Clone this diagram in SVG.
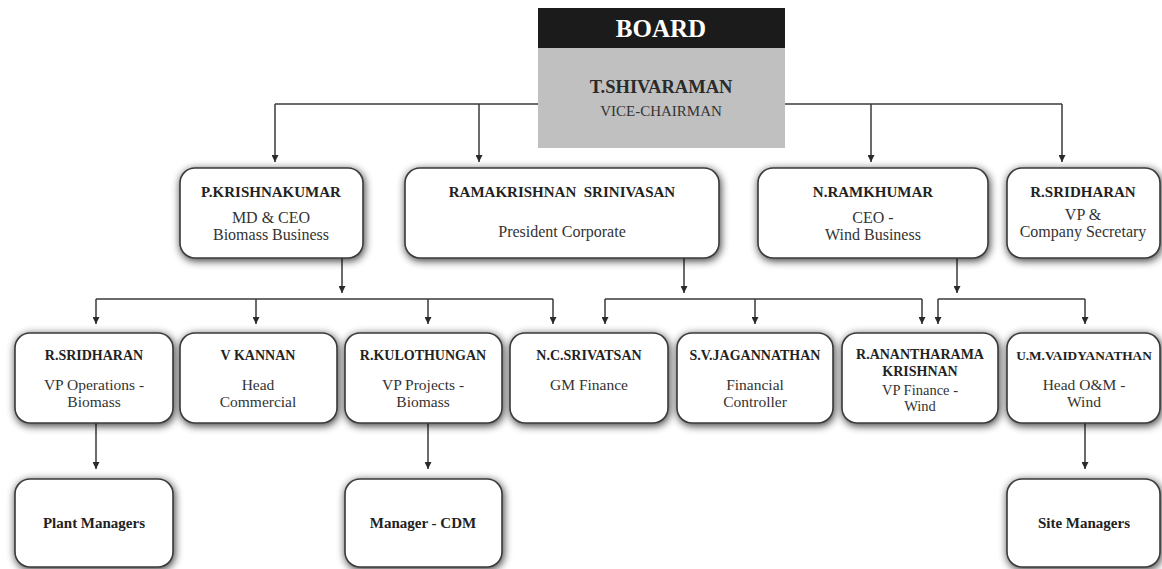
<svg xmlns="http://www.w3.org/2000/svg" width="1162" height="569" viewBox="0 0 1162 569">
<defs>
<filter id="sh" x="-20%" y="-20%" width="140%" height="150%">
<feGaussianBlur in="SourceAlpha" stdDeviation="4.5"/>
<feOffset dx="1" dy="2" result="b"/>
<feComponentTransfer><feFuncA type="linear" slope="0.8"/></feComponentTransfer>
<feMerge><feMergeNode/><feMergeNode in="SourceGraphic"/></feMerge>
</filter>
<marker id="ah" markerWidth="7" markerHeight="7" refX="7" refY="3.5" orient="auto" markerUnits="userSpaceOnUse" viewBox="0 0 7 7">
<path d="M0,0 L7,3.5 L0,7 Z" fill="#2a2a2a"/>
</marker>
<style>
.bx{fill:#fff;stroke:#3a3a3a;stroke-width:1.6;filter:url(#sh)}
.ln{fill:none;stroke:#3a3a3a;stroke-width:1.5}
.ar{fill:none;stroke:#3a3a3a;stroke-width:1.5;marker-end:url(#ah)}
.nm{font-weight:bold;fill:#222;text-anchor:middle}
.tt{fill:#333;text-anchor:middle}
</style>
</defs>
<rect width="1162" height="569" fill="#fff"/>

<g id="connectors">
<line class="ln" x1="538" y1="104" x2="275" y2="104"/>
<line class="ar" x1="275" y1="104" x2="275" y2="162"/>
<line class="ar" x1="479" y1="104" x2="479" y2="162"/>
<line class="ln" x1="785" y1="104" x2="1062" y2="104"/>
<line class="ar" x1="871" y1="104" x2="871" y2="162"/>
<line class="ar" x1="1062" y1="104" x2="1062" y2="162"/>

<line class="ar" x1="342" y1="258" x2="342" y2="293"/>
<line class="ar" x1="684" y1="258" x2="684" y2="293"/>
<line class="ar" x1="957" y1="258" x2="957" y2="293"/>

<line class="ln" x1="96" y1="299" x2="553" y2="299"/>
<line class="ar" x1="96" y1="299" x2="96" y2="324"/>
<line class="ar" x1="256" y1="299" x2="256" y2="324"/>
<line class="ar" x1="428" y1="299" x2="428" y2="324"/>
<line class="ar" x1="553" y1="299" x2="553" y2="324"/>

<line class="ln" x1="605" y1="299" x2="922" y2="299"/>
<line class="ar" x1="605" y1="299" x2="605" y2="324"/>
<line class="ar" x1="755" y1="299" x2="755" y2="324"/>
<line class="ar" x1="922" y1="299" x2="922" y2="324"/>

<line class="ln" x1="938" y1="299" x2="1085" y2="299"/>
<line class="ar" x1="938" y1="299" x2="938" y2="324"/>
<line class="ar" x1="1085" y1="299" x2="1085" y2="324"/>

<line class="ar" x1="96" y1="423" x2="96" y2="469"/>
<line class="ar" x1="428" y1="423" x2="428" y2="469"/>
<line class="ar" x1="1085" y1="423" x2="1085" y2="469"/>
</g>

<g font-family="Liberation Serif, serif">
<g id="board">
<rect x="538" y="8" width="247" height="40" fill="#1b1b1b"/>
<rect x="538" y="48" width="247" height="100" fill="#c0c0c0"/>
<text x="661" y="37" font-weight="bold" font-size="25" fill="#fff" text-anchor="middle">BOARD</text>
<text x="661" y="93" font-weight="bold" font-size="18.5" fill="#2a2a2a" text-anchor="middle">T.SHIVARAMAN</text>
<text x="661" y="116" font-size="15" fill="#333" text-anchor="middle">VICE-CHAIRMAN</text>
</g>

<g id="n-krishnakumar">
<rect class="bx" x="180" y="168" width="183" height="90" rx="15"/>
<text class="nm" x="271" y="197" font-size="15">P.KRISHNAKUMAR</text>
<text class="tt" x="271" y="223" font-size="16">MD &amp; CEO</text>
<text class="tt" x="271" y="240" font-size="16">Biomass Business</text>
</g>

<g id="n-srinivasan">
<rect class="bx" x="405" y="168" width="314" height="90" rx="15"/>
<text class="nm" x="562" y="197" font-size="15" xml:space="preserve">RAMAKRISHNAN  SRINIVASAN</text>
<text class="tt" x="562" y="237" font-size="16">President Corporate</text>
</g>

<g id="n-ramkhumar">
<rect class="bx" x="758" y="168" width="230" height="90" rx="15"/>
<text class="nm" x="873" y="197" font-size="15">N.RAMKHUMAR</text>
<text class="tt" x="873" y="223" font-size="16">CEO -</text>
<text class="tt" x="873" y="240" font-size="16">Wind Business</text>
</g>

<g id="n-sridharan-cs">
<rect class="bx" x="1007" y="168" width="153" height="90" rx="15"/>
<text class="nm" x="1083" y="197" font-size="15">R.SRIDHARAN</text>
<text class="tt" x="1083" y="220" font-size="16">VP &amp;</text>
<text class="tt" x="1083" y="237" font-size="16">Company Secretary</text>
</g>

<g id="n-sridharan-ops">
<rect class="bx" x="15" y="333" width="158" height="90" rx="15"/>
<text class="nm" x="94" y="360" font-size="14">R.SRIDHARAN</text>
<text class="tt" x="94" y="390" font-size="15.5">VP Operations -</text>
<text class="tt" x="94" y="407" font-size="15.5">Biomass</text>
</g>

<g id="n-kannan">
<rect class="bx" x="180" y="333" width="157" height="90" rx="15"/>
<text class="nm" x="258" y="360" font-size="14">V KANNAN</text>
<text class="tt" x="258" y="390" font-size="15.5">Head</text>
<text class="tt" x="258" y="407" font-size="15.5">Commercial</text>
</g>

<g id="n-kulothungan">
<rect class="bx" x="345" y="333" width="157" height="90" rx="15"/>
<text class="nm" x="423" y="360" font-size="14">R.KULOTHUNGAN</text>
<text class="tt" x="423" y="390" font-size="15.5">VP Projects -</text>
<text class="tt" x="423" y="407" font-size="15.5">Biomass</text>
</g>

<g id="n-srivatsan">
<rect class="bx" x="510" y="333" width="158" height="90" rx="15"/>
<text class="nm" x="589" y="360" font-size="14">N.C.SRIVATSAN</text>
<text class="tt" x="589" y="390" font-size="15.5">GM Finance</text>
</g>

<g id="n-jagannathan">
<rect class="bx" x="677" y="333" width="156" height="90" rx="15"/>
<text class="nm" x="755" y="360" font-size="14">S.V.JAGANNATHAN</text>
<text class="tt" x="755" y="390" font-size="15.5">Financial</text>
<text class="tt" x="755" y="407" font-size="15.5">Controller</text>
</g>

<g id="n-ananthakrishnan">
<rect class="bx" x="842" y="333" width="156" height="90" rx="15"/>
<text class="nm" x="920" y="359" font-size="14">R.ANANTHARAMA</text>
<text class="nm" x="920" y="376" font-size="14">KRISHNAN</text>
<text class="tt" x="920" y="395" font-size="14.5">VP Finance -</text>
<text class="tt" x="920" y="411" font-size="14.5">Wind</text>
</g>

<g id="n-vaidyanathan">
<rect class="bx" x="1007" y="333" width="153" height="90" rx="15"/>
<text class="nm" x="1084" y="360" font-size="13.3">U.M.VAIDYANATHAN</text>
<text class="tt" x="1084" y="390" font-size="15.5">Head O&amp;M -</text>
<text class="tt" x="1084" y="407" font-size="15.5">Wind</text>
</g>

<g id="n-plant">
<rect class="bx" x="15" y="479" width="158" height="88" rx="15"/>
<text class="nm" x="94" y="528" font-size="15">Plant Managers</text>
</g>

<g id="n-cdm">
<rect class="bx" x="345" y="479" width="157" height="88" rx="15"/>
<text class="nm" x="423" y="528" font-size="15">Manager - CDM</text>
</g>

<g id="n-site">
<rect class="bx" x="1007" y="479" width="153" height="88" rx="15"/>
<text class="nm" x="1084" y="528" font-size="15">Site Managers</text>
</g>
</g>
</svg>
